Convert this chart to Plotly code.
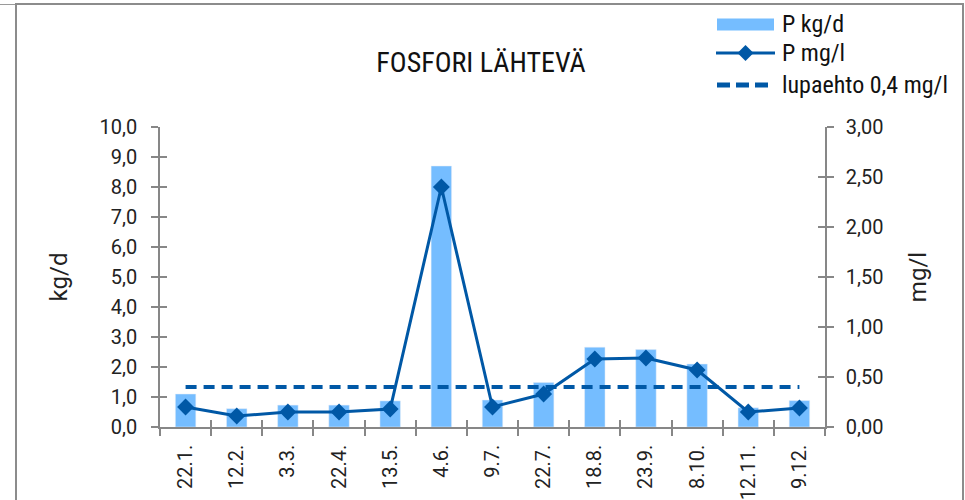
import plotly.graph_objects as go

# sample dates
dates = ['22.1.', '12.2.', '3.3.', '22.4.', '13.5.', '4.6.', '9.7.',
         '22.7.', '18.8.', '23.9.', '8.10.', '12.11.', '9.12.']

# P load kg/d (left axis)
p_kgd = [1.1, 0.61, 0.73, 0.73, 0.87, 8.7, 0.9, 1.48, 2.66, 2.58, 2.1, 0.64, 0.88]

# P concentration mg/l (right axis)
p_mgl = [0.20, 0.11, 0.15, 0.15, 0.18, 2.40, 0.20, 0.33, 0.68, 0.69, 0.57, 0.15, 0.19]

# permit limit
limit = [0.4] * len(dates)

series_names = ['P kg/d', 'P mg/l', 'lupaehto 0,4 mg/l']

BAR_COL = '#75BDFF'
LINE_COL = '#0058A6'
AXIS_COL = '#878787'
NARROW = 'Liberation Sans Narrow, Arial Narrow, Roboto Condensed, Roboto, sans-serif'

# plot area in pixels (left, right, top, bottom)
L, R, T, B = 160, 825, 127, 427


def px(x):
    return (x - L) / (R - L)


def py(y):
    return (B - y) / (B - T)


fig = go.Figure()
fig.add_trace(go.Bar(x=dates, y=p_kgd, name=series_names[0], marker_color=BAR_COL,
                     yaxis='y'))
fig.add_trace(go.Scatter(x=dates, y=p_mgl, name=series_names[1], mode='lines+markers',
                         line=dict(color=LINE_COL, width=3),
                         marker=dict(symbol='diamond', size=13, color=LINE_COL),
                         yaxis='y2'))
fig.add_trace(go.Scatter(x=dates, y=limit, name=series_names[2], mode='lines',
                         line=dict(color=LINE_COL, width=4, dash='11px,7px'),
                         yaxis='y2'))
# empty helpers so the overlay axes (inner half of the crossing ticks) get drawn
fig.add_trace(go.Scatter(x=dates, y=p_kgd, mode='none', hoverinfo='skip',
                         xaxis='x2', yaxis='y3'))
fig.add_trace(go.Scatter(x=dates, y=p_mgl, mode='none', hoverinfo='skip',
                         xaxis='x2', yaxis='y4'))

# outer frame like the spreadsheet chart box
fig.add_shape(type='rect', xref='paper', yref='paper',
              x0=px(16), x1=px(963), y0=py(520), y1=py(4),
              line=dict(color='#8c8c8c', width=2))
fig.add_shape(type='line', xref='paper', yref='paper',
              x0=px(0), x1=px(15), y0=py(4.5), y1=py(4.5),
              line=dict(color='#9a9a9a', width=1))

# legend drawn by hand so the symbols match the spreadsheet look
fig.add_shape(type='rect', xref='paper', yref='paper',
              x0=px(717), x1=px(774), y0=py(30.5), y1=py(18.5),
              fillcolor=BAR_COL, line=dict(width=0))
fig.add_shape(type='line', xref='paper', yref='paper',
              x0=px(716), x1=px(775), y0=py(53), y1=py(53),
              line=dict(color=LINE_COL, width=3))
fig.add_shape(type='path', xref='paper', yref='paper',
              path='M {},{} L {},{} L {},{} L {},{} Z'.format(
                  px(745.5), py(45), px(753.5), py(53), px(745.5), py(61), px(737.5), py(53)),
              fillcolor=LINE_COL, line=dict(width=0))
fig.add_shape(type='line', xref='paper', yref='paper',
              x0=px(717), x1=px(773), y0=py(85), y1=py(85),
              line=dict(color=LINE_COL, width=5, dash='13px,6px'))
for name, ly in zip(series_names, [24, 53, 85]):
    fig.add_annotation(text=name, xref='paper', yref='paper', x=px(780), y=py(ly),
                       xanchor='left', yanchor='middle', showarrow=False,
                       font=dict(family=NARROW, size=24, color='#111'))

axis_style = dict(showline=True, linecolor=AXIS_COL, linewidth=1.5,
                  ticks='outside', ticklen=7, tickcolor=AXIS_COL, tickwidth=1.5,
                  showgrid=False, zeroline=False, automargin=False)
inner_ticks = dict(ticks='inside', ticklen=7, tickcolor=AXIS_COL, tickwidth=1.5,
                   showline=False, showgrid=False, zeroline=False,
                   showticklabels=False, automargin=False)
cat_range = [-0.5, len(dates) - 0.5]

fig.update_layout(
    width=965, height=500,
    margin=dict(l=L, r=965 - R, t=T, b=500 - B, autoexpand=False),
    paper_bgcolor='white', plot_bgcolor='white',
    separators=',.',
    bargap=0.6,
    showlegend=False,
    hovermode=False,
    font=dict(family='Roboto, sans-serif', size=20, color='#222'),
    title=dict(text='FOSFORI LÄHTEVÄ', x=0.4985, xref='container', xanchor='center',
               y=1 - 62 / 500, yref='container', yanchor='middle',
               font=dict(family=NARROW, size=28, color='#111')),
    xaxis=dict(axis_style, type='category', range=cat_range, tickson='boundaries',
               tickangle=-90, ticklabelstandoff=8),
    yaxis=dict(axis_style, range=[0, 10], dtick=1, tickformat='.1f',
               ticklabelstandoff=10, title=dict(text='kg/d', standoff=25)),
    yaxis2=dict(axis_style, range=[0, 3], dtick=0.5, tickformat='.2f',
                overlaying='y', side='right', ticklabelstandoff=8,
                title=dict(text='mg/l', standoff=27)),
    xaxis2=dict(inner_ticks, type='category', categoryarray=dates,
                range=cat_range, tickson='boundaries',
                overlaying='x', anchor='y3', side='bottom'),
    yaxis3=dict(inner_ticks, range=[0, 10], dtick=1, overlaying='y',
                anchor='x2', side='left'),
    yaxis4=dict(inner_ticks, range=[0, 3], dtick=0.5, overlaying='y',
                anchor='x2', side='right'),
)

fig.write_html('out.html', config={'displayModeBar': False},
               post_script="document.body.style.margin='0';")
